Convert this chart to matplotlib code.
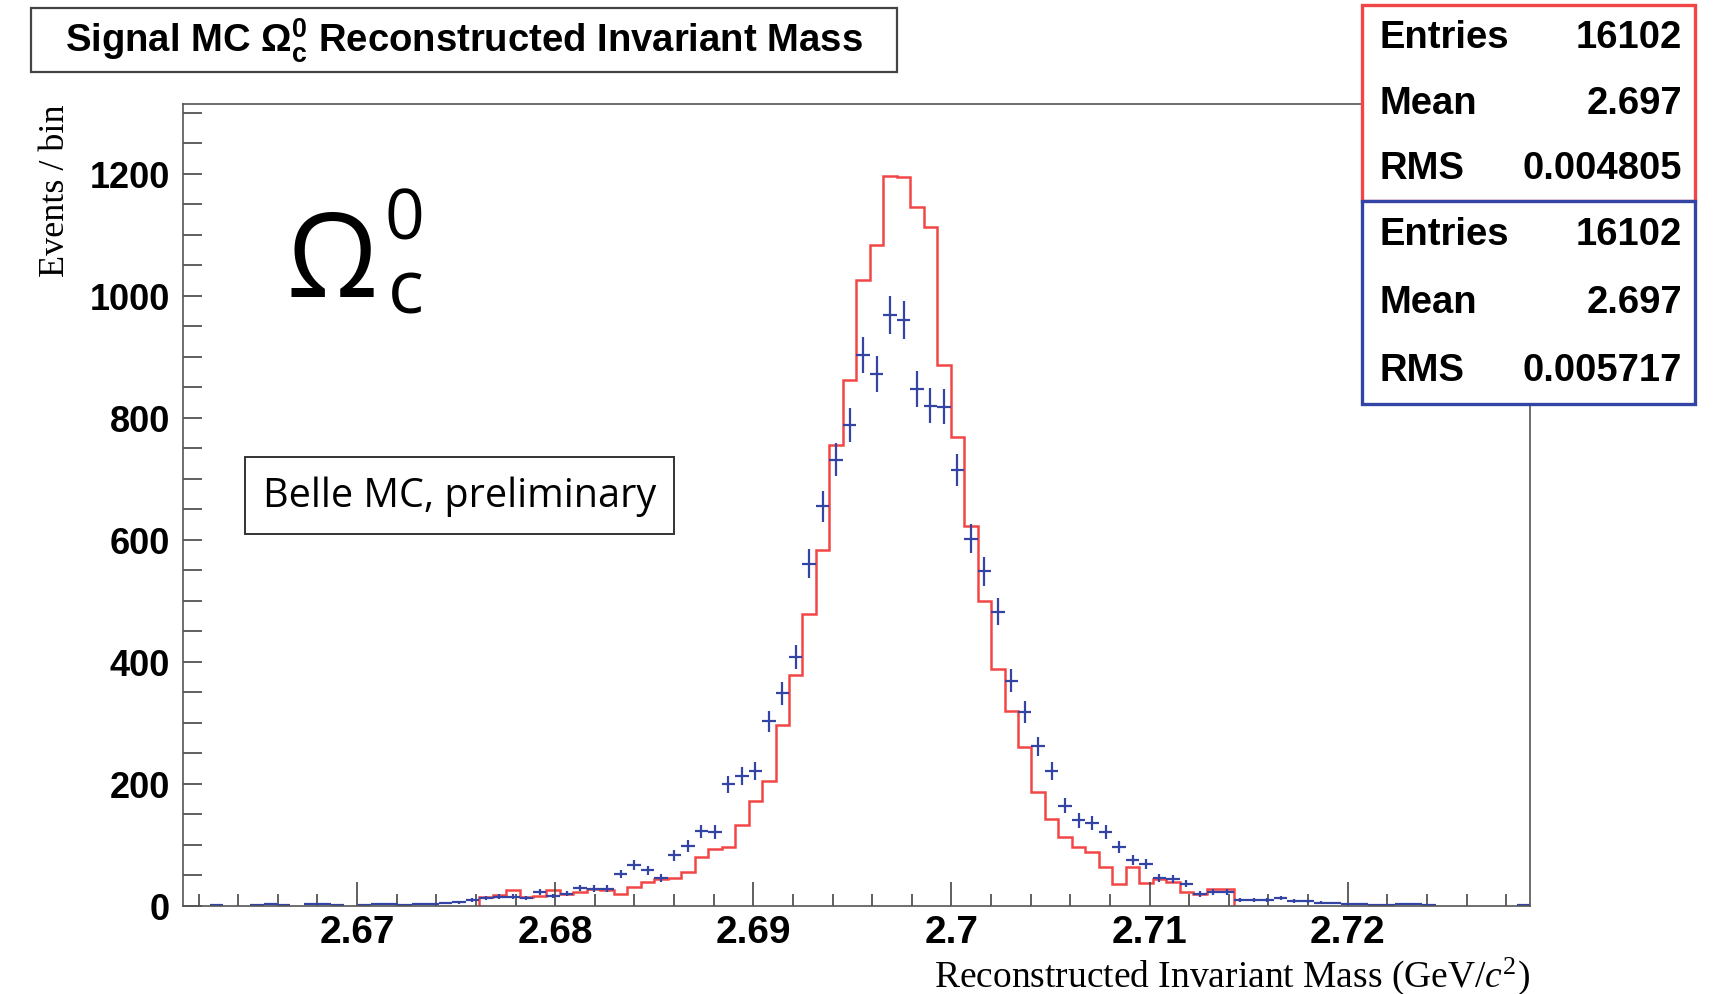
"""
Signal MC Omega_c^0 reconstructed invariant mass: two overlaid ROOT-style
histograms (red step line, blue points with sqrt(N) errors) + stats boxes.
Output: out.png
"""
import matplotlib
matplotlib.use("Agg")
import matplotlib.pyplot as plt
import numpy as np
from matplotlib.patches import Rectangle
from matplotlib.ticker import MultipleLocator, FuncFormatter

W, H = 1726, 995

# binning: 100 bins over the Omega_c mass window
X_LO, X_HI, NBINS = 2.6612, 2.7292, 100

# red histogram (counts per bin, 100 bins)
red_counts = [0] * 22 + [
    14, 17, 25, 15, 16, 25, 20, 23, 27, 26,
    20, 31, 39, 44, 46, 55, 80, 93, 97, 133,
    171, 205, 297, 379, 478, 583, 755, 862, 1026, 1083,
    1197, 1195, 1146, 1113, 886, 769, 622, 500, 388, 320,
    260, 186, 142, 112, 96, 88, 63, 36, 63, 38,
    44, 39, 23, 19, 27, 27,
] + [0] * 22

# blue histogram (counts per bin, 100 bins)
blue_counts = [
    0, 0, 1, 0, 0, 1, 2, 1, 0, 2,
    2, 1, 0, 1, 2, 2, 1, 3, 3, 4,
    6, 10, 12, 15, 15, 13, 22, 16, 20, 29,
    28, 28, 52, 66, 58, 45, 83, 98, 122, 121,
    199, 213, 221, 302, 348, 408, 561, 655, 731, 788,
    903, 871, 969, 960, 847, 820, 818, 714, 602, 548,
    482, 369, 317, 261, 221, 164, 140, 135, 121, 96,
    75, 68, 45, 44, 36, 19, 22, 23, 10, 9,
    10, 12, 8, 7, 5, 4, 3, 2, 1, 1,
    2, 2, 1, 0, 0, 0, 0, 0, 0, 1,
]

red_stats = [("Entries", "16102"), ("Mean", "2.697"), ("RMS", "0.004805")]
blue_stats = [("Entries", "16102"), ("Mean", "2.697"), ("RMS", "0.005717")]

RED = "#f24646"
BLUE = "#3444a4"
SANS = "Liberation Sans"

plt.rcParams["mathtext.fontset"] = "custom"
plt.rcParams["mathtext.rm"] = "Liberation Serif"
plt.rcParams["mathtext.it"] = "Liberation Serif:italic"
plt.rcParams["mathtext.bf"] = "Liberation Sans:bold"


def fx(px):
    return px / W


def fy(py):
    return 1 - py / H


fig = plt.figure(figsize=(W / 100, H / 100), dpi=100)
fig.patch.set_facecolor("white")
ax = fig.add_axes([fx(182.7), fy(906.7), fx(1530) - fx(182.7), fy(104.6) - fy(906.7)])

edges = np.linspace(X_LO, X_HI, NBINS + 1)
centers = 0.5 * (edges[:-1] + edges[1:])
red = np.array(red_counts, float)
blue = np.array(blue_counts, float)

# red: step outline only over the filled range
nz = np.nonzero(red)[0]
lo, hi = nz[0], nz[-1] + 1
ax.stairs(red[lo:hi], edges[lo:hi + 1], color=RED, lw=1.8, baseline=0)

# blue: points with sqrt(N) errors and half-bin x errors
m = blue > 0
ax.errorbar(centers[m], blue[m], yerr=np.sqrt(blue[m]),
            xerr=0.5 * (edges[1] - edges[0]), fmt="none",
            ecolor=BLUE, elinewidth=1.6, capsize=0)

ax.set_xlim(X_LO, X_HI)
ax.set_ylim(0, 1315)
ax.xaxis.set_major_locator(MultipleLocator(0.01))
ax.xaxis.set_minor_locator(MultipleLocator(0.002))
ax.yaxis.set_major_locator(MultipleLocator(200))
ax.yaxis.set_minor_locator(MultipleLocator(50))
ax.xaxis.set_major_formatter(FuncFormatter(lambda v, p: f"{v:g}"))
ax.tick_params(axis="x", which="major", direction="in", length=17, width=1.2,
               color="#444444", pad=6)
ax.tick_params(axis="x", which="minor", direction="in", length=8.5, width=1.2,
               color="#444444")
ax.tick_params(axis="y", which="major", direction="in", length=14, width=1.2,
               color="#444444", pad=9)
ax.tick_params(axis="y", which="minor", direction="in", length=14, width=1.2,
               color="#444444")
for lab in ax.get_xticklabels():
    lab.set_fontfamily(SANS)
    lab.set_fontweight("bold")
    lab.set_fontsize(28)
for lab in ax.get_yticklabels():
    lab.set_fontfamily(SANS)
    lab.set_fontweight("bold")
    lab.set_fontsize(26)
for sp in ax.spines.values():
    sp.set_color("#555555")
    sp.set_linewidth(1.2)

# axis titles (serif, ROOT style)
fig.text(fx(56), fy(104.6), "Events / bin", rotation=90, ha="center", va="top",
         family="Liberation Serif", fontsize=26)
fig.text(fx(1530), fy(976), r"Reconstructed Invariant Mass (GeV/$c^2$)",
         ha="right", va="center", family="Liberation Serif", fontsize=27)

# histogram title box
fig.add_artist(Rectangle((fx(31), fy(73)), fx(897) - fx(31), fy(9) - fy(73),
                         transform=fig.transFigure, facecolor="white",
                         edgecolor="#444444", lw=1.6, zorder=5))
fig.text(fx(464), fy(41), r"Signal MC $\mathbf{\Omega_c^0}$ Reconstructed Invariant Mass",
         ha="center", va="center", family=SANS, fontweight="bold", fontsize=27.5,
         zorder=6)

# stats boxes
for (top, bot, color, rows) in [(5.5, 201.5, RED, red_stats),
                                (201.5, 405, BLUE, blue_stats)]:
    fig.add_artist(Rectangle((fx(1362), fy(bot)), fx(1695) - fx(1362), fy(top) - fy(bot),
                             transform=fig.transFigure, facecolor="white",
                             edgecolor=color, lw=2.4, zorder=5))
    step = (bot - top) / 3
    for k, (name, val) in enumerate(rows):
        yc = top + step * (k + 0.5)
        fig.text(fx(1379), fy(yc), name, ha="left", va="center", family=SANS,
                 fontweight="bold", fontsize=27.5, zorder=6)
        fig.text(fx(1682), fy(yc), val, ha="right", va="center", family=SANS,
                 fontweight="bold", fontsize=27.5, zorder=6)

# big Omega_c^0 label
fig.text(fx(286), fy(297), "Ω", ha="left", va="baseline", family="Open Sans",
         fontsize=84)
fig.text(fx(384), fy(240), "0", ha="left", va="baseline", family="Open Sans",
         fontsize=50)
fig.text(fx(388), fy(314), "c", ha="left", va="baseline", family="Open Sans",
         fontsize=54)

# Belle MC box
fig.add_artist(Rectangle((fx(245), fy(535)), fx(674) - fx(245), fy(458) - fy(535),
                         transform=fig.transFigure, facecolor="white",
                         edgecolor="#333333", lw=1.4, zorder=5))
fig.text(fx(459.5), fy(497), "Belle MC, preliminary", ha="center", va="center",
         family="Open Sans", fontsize=28.5, zorder=6)

fig.savefig("out.png", dpi=100, facecolor="white")
